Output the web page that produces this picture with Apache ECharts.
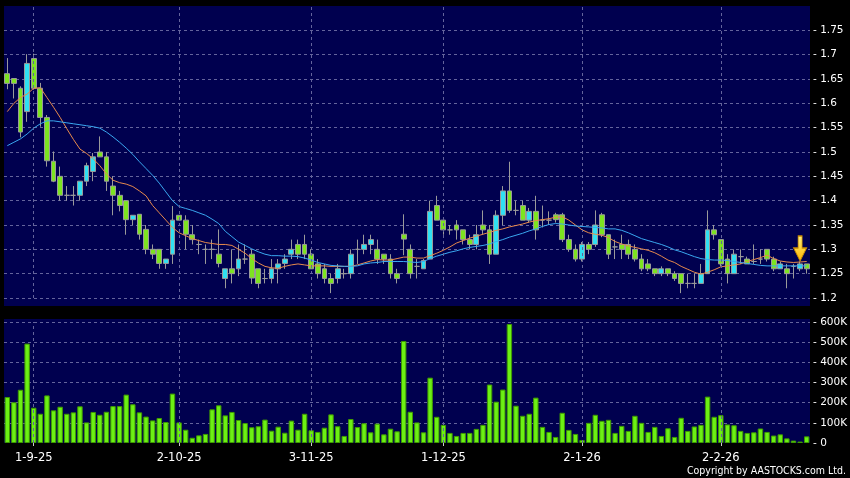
<!DOCTYPE html>
<html><head><meta charset="utf-8">
<script src="https://cdn.jsdelivr.net/npm/echarts@6/dist/echarts.min.js"></script>
<style>html,body{margin:0;padding:0;background:#000;}#c{width:850px;height:478px;}</style>
</head><body><div id="c"></div>
<script>
const dates = [
'26-8-25','27-8-25','28-8-25','29-8-25',
'1-9-25','2-9-25','3-9-25','4-9-25','5-9-25','8-9-25','9-9-25','10-9-25','11-9-25','12-9-25','15-9-25','16-9-25','17-9-25','18-9-25','19-9-25','22-9-25','23-9-25','24-9-25','25-9-25','26-9-25','29-9-25','30-9-25',
'2-10-25','3-10-25','6-10-25','8-10-25','9-10-25','10-10-25','13-10-25','14-10-25','15-10-25','16-10-25','17-10-25','20-10-25','21-10-25','22-10-25','23-10-25','24-10-25','27-10-25','28-10-25','30-10-25','31-10-25',
'3-11-25','4-11-25','5-11-25','6-11-25','7-11-25','10-11-25','11-11-25','12-11-25','13-11-25','14-11-25','17-11-25','18-11-25','19-11-25','20-11-25','21-11-25','24-11-25','25-11-25','26-11-25','27-11-25','28-11-25',
'1-12-25','2-12-25','3-12-25','4-12-25','5-12-25','8-12-25','9-12-25','10-12-25','11-12-25','12-12-25','15-12-25','16-12-25','17-12-25','18-12-25','19-12-25','22-12-25','23-12-25','24-12-25','29-12-25','30-12-25','31-12-25',
'2-1-26','5-1-26','6-1-26','7-1-26','8-1-26','9-1-26','12-1-26','13-1-26','14-1-26','15-1-26','16-1-26','19-1-26','20-1-26','21-1-26','22-1-26','23-1-26','26-1-26','27-1-26','28-1-26','29-1-26','30-1-26',
'2-2-26','3-2-26','4-2-26','5-2-26','6-2-26','9-2-26','10-2-26','11-2-26','12-2-26','13-2-26','16-2-26','20-2-26','23-2-26','24-2-26'
];
const labelDates = ['1-9-25','2-10-25','3-11-25','1-12-25','2-1-26','2-2-26'];

const opens = [
1.661,1.651,1.631,1.583,1.692,1.631,1.571,1.481,1.45,1.411,
1.411,1.411,1.44,1.46,1.50,1.49,1.43,1.411,1.40,1.361,
1.372,1.341,1.30,1.30,1.271,1.29,1.37,1.36,1.33,1.31,
1.30,1.30,1.29,1.24,1.26,1.26,1.28,1.29,1.26,1.24,
1.24,1.26,1.271,1.29,1.31,1.31,1.29,1.27,1.26,1.24,
1.24,1.25,1.25,1.30,1.30,1.31,1.30,1.29,1.28,1.25,
1.331,1.30,1.265,1.26,1.28,1.39,1.36,1.34,1.35,1.34,
1.32,1.31,1.35,1.34,1.29,1.37,1.42,1.38,1.39,1.36,
1.378,1.36,1.36,1.371,1.371,1.32,1.30,1.28,1.31,1.31,
1.371,1.33,1.305,1.31,1.31,1.30,1.28,1.27,1.26,1.25,
1.26,1.25,1.25,1.23,1.23,1.23,1.25,1.34,1.32,1.28,
1.25,1.285,1.28,1.275,1.28,1.30,1.28,1.26,1.26,1.265,
1.26,1.27];
const closes = [
1.641,1.641,1.541,1.682,1.631,1.571,1.482,1.44,1.411,1.411,
1.411,1.44,1.472,1.49,1.49,1.44,1.411,1.39,1.361,1.37,
1.331,1.30,1.29,1.271,1.28,1.36,1.36,1.331,1.32,1.31,
1.30,1.30,1.271,1.26,1.25,1.28,1.28,1.241,1.23,1.24,
1.26,1.27,1.28,1.30,1.29,1.29,1.26,1.25,1.24,1.23,
1.26,1.25,1.29,1.30,1.31,1.32,1.28,1.28,1.25,1.24,
1.321,1.25,1.265,1.277,1.378,1.36,1.34,1.34,1.34,1.32,
1.31,1.33,1.34,1.29,1.37,1.42,1.38,1.38,1.36,1.378,
1.34,1.36,1.36,1.361,1.32,1.30,1.28,1.31,1.30,1.35,
1.33,1.29,1.305,1.30,1.29,1.28,1.26,1.26,1.25,1.26,
1.25,1.24,1.23,1.23,1.23,1.25,1.34,1.33,1.27,1.25,
1.29,1.285,1.27,1.275,1.28,1.28,1.26,1.27,1.25,1.265,
1.27,1.26];
const lows = [
1.629,1.61,1.53,1.562,1.628,1.552,1.47,1.438,1.40,1.40,
1.39,1.40,1.43,1.44,1.49,1.42,1.37,1.378,1.33,1.35,
1.32,1.29,1.28,1.26,1.26,1.27,1.36,1.30,1.31,1.29,
1.27,1.28,1.263,1.22,1.23,1.245,1.27,1.229,1.22,1.23,
1.23,1.23,1.26,1.28,1.28,1.28,1.26,1.24,1.23,1.21,
1.23,1.24,1.24,1.27,1.29,1.29,1.27,1.27,1.24,1.23,
1.288,1.24,1.24,1.26,1.28,1.36,1.33,1.33,1.32,1.31,
1.30,1.30,1.33,1.27,1.29,1.35,1.375,1.37,1.36,1.355,
1.32,1.345,1.35,1.355,1.315,1.295,1.275,1.275,1.29,1.305,
1.325,1.28,1.28,1.28,1.28,1.275,1.255,1.255,1.245,1.245,
1.245,1.235,1.21,1.22,1.22,1.23,1.25,1.32,1.265,1.23,
1.25,1.27,1.27,1.27,1.27,1.275,1.255,1.26,1.22,1.24,
1.255,1.25];
const highs = [
1.693,1.651,1.635,1.701,1.702,1.642,1.576,1.501,1.47,1.43,
1.43,1.44,1.478,1.498,1.532,1.50,1.45,1.42,1.40,1.37,
1.372,1.35,1.31,1.30,1.28,1.389,1.37,1.37,1.35,1.32,
1.31,1.32,1.341,1.26,1.30,1.31,1.31,1.30,1.26,1.26,
1.28,1.28,1.29,1.32,1.32,1.33,1.30,1.28,1.27,1.25,
1.27,1.26,1.30,1.32,1.33,1.33,1.32,1.29,1.29,1.26,
1.372,1.31,1.28,1.28,1.40,1.41,1.36,1.35,1.36,1.34,
1.33,1.35,1.38,1.35,1.38,1.43,1.48,1.40,1.40,1.385,
1.41,1.39,1.378,1.375,1.375,1.33,1.31,1.315,1.315,1.38,
1.375,1.33,1.32,1.33,1.32,1.31,1.29,1.28,1.26,1.265,
1.26,1.255,1.25,1.25,1.25,1.27,1.38,1.35,1.32,1.29,
1.30,1.30,1.285,1.31,1.30,1.30,1.285,1.275,1.27,1.27,
1.275,1.27];
const ma10 = [
1.583,1.600,1.612,1.619,1.631,1.632,1.612,1.592,1.571,1.548,
1.526,1.506,1.497,1.486,1.472,1.455,1.442,1.437,1.434,1.429,
1.420,1.410,1.390,1.375,1.360,1.345,1.334,1.328,1.322,1.318,
1.314,1.312,1.310,1.310,1.308,1.300,1.292,1.281,1.272,1.265,
1.262,1.261,1.265,1.268,1.270,1.268,1.266,1.266,1.266,1.265,
1.265,1.265,1.265,1.268,1.272,1.276,1.279,1.278,1.278,1.281,
1.284,1.284,1.282,1.282,1.287,1.292,1.298,1.305,1.313,1.318,
1.323,1.327,1.331,1.335,1.339,1.342,1.346,1.349,1.352,1.356,
1.359,1.361,1.363,1.366,1.367,1.360,1.350,1.340,1.334,1.331,
1.329,1.324,1.316,1.311,1.307,1.304,1.301,1.298,1.293,1.286,
1.278,1.273,1.265,1.259,1.253,1.249,1.253,1.258,1.264,1.266,
1.268,1.270,1.275,1.279,1.283,1.288,1.281,1.276,1.274,1.273,
1.274,1.275];
const ma20 = [
1.513,1.520,1.527,1.537,1.549,1.558,1.564,1.564,1.562,1.560,
1.558,1.556,1.554,1.552,1.549,1.541,1.531,1.520,1.508,1.495,
1.480,1.466,1.452,1.436,1.418,1.400,1.388,1.384,1.380,1.375,
1.370,1.362,1.353,1.337,1.326,1.315,1.308,1.301,1.295,1.290,
1.287,1.287,1.286,1.286,1.285,1.282,1.278,1.273,1.270,1.267,
1.266,1.265,1.265,1.266,1.270,1.272,1.273,1.275,1.275,1.275,
1.275,1.274,1.273,1.275,1.281,1.286,1.290,1.294,1.297,1.301,
1.304,1.306,1.308,1.311,1.316,1.320,1.325,1.329,1.333,1.338,
1.342,1.347,1.351,1.353,1.352,1.350,1.348,1.347,1.346,1.345,
1.344,1.342,1.342,1.339,1.334,1.328,1.322,1.318,1.314,1.310,
1.305,1.299,1.295,1.290,1.285,1.281,1.279,1.278,1.278,1.277,
1.275,1.273,1.271,1.269,1.267,1.266,1.266,1.266,1.266,1.266,
1.266,1.266];
// volume in thousands of shares
const volumes = [
228,202,264,493,175,145,236,162,180,145,
152,182,102,154,140,155,183,183,240,192,
152,131,112,124,104,245,102,66,26,38,
45,167,187,137,154,114,99,78,83,116,
61,81,51,111,66,145,63,55,76,142,
83,35,119,79,98,53,96,43,71,58,
506,155,102,53,324,130,90,50,35,50,
50,70,90,290,205,265,590,185,135,145,
225,80,55,30,150,65,45,15,100,140,
110,115,50,85,60,135,100,55,80,35,
73,30,125,60,82,90,230,130,138,92,
88,60,50,53,72,55,37,43,23,12,
7,33];
const arrowIndex = 120;

const NAVY = '#00004f';
const GRIDC = '#64649c';
const CYAN = '#30e0f2';
const GREEN = '#7de420';
const VOLG = '#6cf014';
const FONT = 'DejaVu Sans';

const candleData = dates.map((d, i) => [opens[i], closes[i], lows[i], highs[i]]);
const isLabel = (idx, val) => labelDates.indexOf(val) >= 0;
const vLines = labelDates.map(d => ({ xAxis: d }));
const vLineStyle = { color: GRIDC, type: [3, 3], width: 1 };

const chart = echarts.init(document.getElementById('c'), null, { renderer: 'canvas' });
chart.setOption({
  backgroundColor: '#000000',
  animation: false,
  graphic: [
    { type: 'rect', z: -10, silent: true, shape: { x: 4, y: 6, width: 806, height: 300 }, style: { fill: NAVY } },
    { type: 'rect', z: -10, silent: true, shape: { x: 4, y: 319, width: 806, height: 124 }, style: { fill: NAVY } },
    { type: 'text', x: 846, y: 471.5, silent: true,
      style: { text: 'Copyright by AASTOCKS.com Ltd.', fill: '#ffffff', align: 'right', verticalAlign: 'middle',
               font: '10.5px "DejaVu Sans Condensed", "DejaVu Sans"' } }
  ],
  grid: [
    { left: 4, right: 40, top: 6, height: 292, outerBoundsMode: 'none' },
    { left: 4, right: 40, top: 322, height: 121, outerBoundsMode: 'none' }
  ],
  xAxis: [
    { type: 'category', gridIndex: 0, data: dates, boundaryGap: true,
      axisLine: { show: false }, axisTick: { show: false }, axisLabel: { show: false }, splitLine: { show: false } },
    { type: 'category', gridIndex: 1, data: dates, boundaryGap: true, offset: 3,
      axisLine: { show: false },
      axisTick: { show: true, alignWithLabel: true, interval: isLabel, length: 3, lineStyle: { color: '#cccccc' } },
      axisLabel: { interval: isLabel, margin: 6, color: '#ffffff', fontSize: 11.5, fontFamily: FONT },
      splitLine: { show: false } }
  ],
  yAxis: [
    { type: 'value', gridIndex: 0, position: 'right', min: 1.2, max: 1.8, interval: 0.05,
      axisLine: { show: false }, axisTick: { show: false },
      axisLabel: { margin: 3, color: '#ffffff', fontSize: 10.5, fontFamily: FONT, showMaxLabel: false,
                   formatter: v => '- ' + parseFloat(v.toFixed(2)) },
      splitLine: { show: true, showMaxLine: false, lineStyle: { color: GRIDC, type: [3, 3], width: 1 } } },
    { type: 'value', gridIndex: 1, position: 'right', min: 0, max: 600, interval: 100,
      axisLine: { show: false }, axisTick: { show: false },
      axisLabel: { margin: 3, color: '#ffffff', fontSize: 10.5, fontFamily: FONT,
                   formatter: v => '- ' + (v === 0 ? '0' : v + 'K') },
      splitLine: { show: true, showMinLine: false, lineStyle: { color: GRIDC, type: [3, 3], width: 1 } } }
  ],
  series: [
    { type: 'line', xAxisIndex: 0, yAxisIndex: 0, data: [], z: 1, silent: true,
      markLine: { silent: true, symbol: ['none', 'none'], label: { show: false }, lineStyle: vLineStyle, data: vLines, animation: false } },
    { type: 'candlestick', name: 'Price', xAxisIndex: 0, yAxisIndex: 0, data: candleData, barWidth: '80%', z: 2,
      itemStyle: { color: CYAN, color0: GREEN, borderColor: '#9a9a9a', borderColor0: '#9a9a9a', borderWidth: 1 },
      markPoint: {
        silent: true, label: { show: false }, animation: false,
        data: [{
          coord: [dates[arrowIndex], highs[arrowIndex]],
          symbol: 'path://M4.5,0 L8.5,0 L8.5,12 L13,12 L6.5,25 L0,12 L4.5,12 Z',
          symbolSize: [13, 25], symbolOffset: [0, '-52%'],
          itemStyle: { color: new echarts.graphic.LinearGradient(0, 0, 0, 1, [{ offset: 0, color: '#fff27a' }, { offset: 1, color: '#ffb400' }]),
                       borderColor: '#c98a00', borderWidth: 1 }
        }]
      } },
    { type: 'line', name: 'MA10', xAxisIndex: 0, yAxisIndex: 0, data: ma10, z: 3, symbol: 'none', silent: true,
      lineStyle: { color: '#e88a4c', width: 1 } },
    { type: 'line', name: 'MA20', xAxisIndex: 0, yAxisIndex: 0, data: ma20, z: 3, symbol: 'none', silent: true,
      lineStyle: { color: '#3aa8f0', width: 1 } },
    { type: 'line', xAxisIndex: 1, yAxisIndex: 1, data: [], z: 1, silent: true,
      markLine: { silent: true, symbol: ['none', 'none'], label: { show: false }, lineStyle: vLineStyle, data: vLines, animation: false } },
    { type: 'bar', name: 'Volume', xAxisIndex: 1, yAxisIndex: 1, data: volumes, barWidth: '82%', z: 2,
      itemStyle: { color: VOLG, borderColor: '#3f9a00', borderWidth: 1 } }
  ]
});
</script>
</body></html>
